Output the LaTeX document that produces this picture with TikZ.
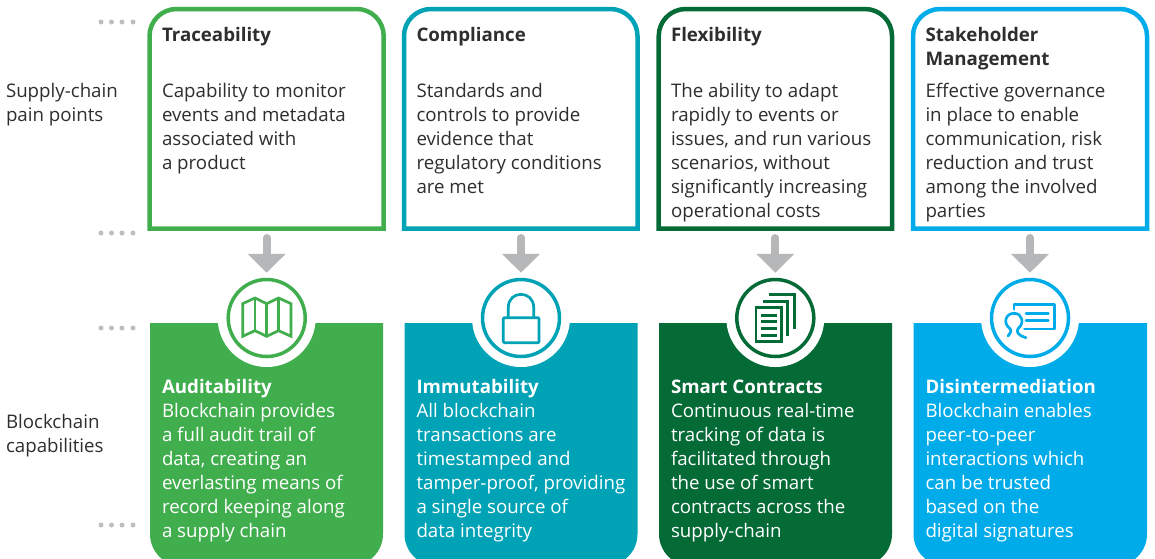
\documentclass[tikz,border=0pt]{standalone}
\usepackage{fontspec}
\setmainfont{Open Sans}
\usetikzlibrary{arrows.meta}
\definecolor{cA}{HTML}{41AE4E}
\definecolor{cB}{HTML}{00A2B6}
\definecolor{cC}{HTML}{046B37}
\definecolor{cD}{HTML}{00ABEA}
\definecolor{txt}{HTML}{2E2E2E}
\definecolor{arrowgray}{HTML}{B6B7B9}
\definecolor{dotgray}{HTML}{BDBEC0}
\newcommand{\fl}{\rule{0pt}{16.8pt}}
\tikzset{
  x=1pt,y=-1pt,
  label text/.style={anchor=north west,inner sep=0pt,outer sep=0pt,align=left,text=txt,font=\fontsize{18.7}{24}\selectfont},
  title text/.style={label text,font=\fontsize{18.7}{24}\selectfont\bfseries},
  white text/.style={label text,text=white},
  painbox/.style={line width=4.5pt,fill=white},
  capbox/.style={fill=#1},
  halo/.style={fill=white,circle,minimum size=98pt,inner sep=0pt,outer sep=0pt},
  ring/.style={draw=#1,line width=3.5pt,fill=white,circle,minimum size=77pt,inner sep=0pt},
  glyph/.style={draw=#1,line width=2.7pt,line join=miter},
  flow/.style={draw=arrowgray,line width=8pt,line cap=round,shorten >=5pt,-{Triangle[width=37pt,length=19pt]},arrowgray},
  dotmark/.style={fill=dotgray,circle,minimum size=5pt,inner sep=0pt,outer sep=0pt},
}
\begin{document}
\begin{tikzpicture}
\clip (0,0) rectangle (1155,558);
% dot rows
\foreach \yy in {22,233,328,525}{
  \foreach \xx in {101,111.5,122,133}{
    \node[dotmark] at (\xx,\yy) {};
  }
}
% side labels
\node[label text] (sideA) at (6,80.4) {\fl Supply-chain\\pain points};
\node[label text] (sideB) at (6,411.4) {\fl Blockchain\\capabilities};
% pain point boxes
\draw[painbox,draw=cA] (149.5,228.7) [rounded corners=27] -- (149.5,9) -- (383.7,9) [sharp corners] -- (383.7,228.7) -- cycle;
\draw[painbox,draw=cB] (404,228.7) [rounded corners=27] -- (404,9) -- (637.5,9) [sharp corners] -- (637.5,228.7) -- cycle;
\draw[painbox,draw=cC] (658.7,228.7) [rounded corners=27] -- (658.7,9) -- (892,9) [sharp corners] -- (892,228.7) -- cycle;
\draw[painbox,draw=cD] (913,228.7) [rounded corners=27] -- (913,9) -- (1147,9) [sharp corners] -- (1147,228.7) -- cycle;
\coordinate (outA) at (266.7,238);
\coordinate (outB) at (521,238);
\coordinate (outC) at (775.3,238);
\coordinate (outD) at (1030,238);
% capability boxes
\fill[capbox=cA] (150,323) -- (383,323) [rounded corners=32] -- (383,566) -- (150,566) [sharp corners] -- cycle;
\fill[capbox=cB] (404.5,323) -- (637.5,323) [rounded corners=32] -- (637.5,566) -- (404.5,566) [sharp corners] -- cycle;
\fill[capbox=cC] (659,323) -- (892,323) [rounded corners=32] -- (892,566) -- (659,566) [sharp corners] -- cycle;
\fill[capbox=cD] (913.5,323) -- (1147,323) [rounded corners=32] -- (1147,566) -- (913.5,566) [sharp corners] -- cycle;
% halos and rings
\node[halo] at (266.7,318) {};
\node[halo] at (521,318) {};
\node[halo] at (775.3,318) {};
\node[halo] at (1030,318) {};
\node[ring=cA] (ringA) at (266.7,318) {};
\node[ring=cB] (ringB) at (521,318) {};
\node[ring=cC] (ringC) at (775.3,318) {};
\node[ring=cD] (ringD) at (1030,318) {};
% connectors
\draw[flow] (outA) -- (outA |- ringA.north);
\draw[flow] (outB) -- (outB |- ringB.north);
\draw[flow] (outC) -- (outC |- ringC.north);
\draw[flow] (outD) -- (outD |- ringD.north);
% map icon
\begin{scope}[shift={(90,210)},x=0.3333pt,y=-0.3333pt]
\draw[glyph=cA] (458,281) -- (495,264) -- (530,281) -- (566,264) -- (603,281) -- (603,379) -- (566,362) -- (530,379) -- (495,362) -- (458,379) -- cycle;
\draw[glyph=cA] (495,264) -- (495,362) (530,281) -- (530,379) (566,264) -- (566,362);
\end{scope}
% lock icon
\begin{scope}[shift={(440,270)},x=0.3333pt,y=-0.3333pt]
\draw[glyph=cB,rounded corners=1pt] (190,143) rectangle (297,218);
\draw[glyph=cB] (205,143) -- (205,112) .. controls (205,60) and (281,60) .. (281,112) -- (281,143);
\end{scope}
% documents icon
\begin{scope}[shift={(700,270)},x=0.3333pt,y=-0.3333pt]
\draw[glyph=cC] (168,113) rectangle (245,215);
\draw[glyph=cC,line width=3pt] (184,135) -- (230,135) (184,155) -- (230,155) (184,175) -- (230,175) (184,195) -- (230,195);
\draw[glyph=cC] (188,95) -- (263,95) -- (263,198);
\draw[glyph=cC] (208,73) -- (283,73) -- (283,178);
\end{scope}
% signature icon
\begin{scope}[shift={(950,270)},x=0.3333pt,y=-0.3333pt]
\draw[glyph=cD,line cap=round,line join=round] (192,118) -- (192,103) -- (313,103) -- (313,177) -- (223,177);
\draw[glyph=cD,line cap=round] (228,130) -- (295,130) (228,152) -- (295,152);
\draw[glyph=cD,line cap=round,line join=round] (174,198) .. controls (180,190) and (186,184) .. (180,176) .. controls (158,160) and (166,130) .. (192,130) .. controls (218,130) and (224,160) .. (204,176) .. controls (198,186) and (204,196) .. (228,203);
\end{scope}
% pain point text
\node[title text] (titleA) at (162,24.2) {\fl Traceability};
\node[label text] (bodyA) at (162,80.4) {\fl Capability to monitor\\events and metadata\\associated with\\a product};
\node[title text] (titleB) at (416.5,24.2) {\fl Compliance};
\node[label text] (bodyB) at (416.5,80.4) {\fl Standards and\\controls to provide\\evidence that\\regulatory conditions\\are met};
\node[title text] (titleC) at (671,24.2) {\fl Flexibility};
\node[label text] (bodyC) at (671,80.4) {\fl The ability to adapt\\rapidly to events or\\issues, and run various\\scenarios, without\\significantly increasing\\operational costs};
\node[title text] (titleD) at (925.5,24.2) {\fl Stakeholder\\Management};
\node[label text] (bodyD) at (925.5,80.4) {\fl Effective governance\\in place to enable\\communication, risk\\reduction and trust\\among the involved\\parties};
% capability text
\node[white text] (capA) at (162,376.4) {\fl\textbf{Auditability}\\Blockchain provides\\a full audit trail of\\data, creating an\\everlasting means of\\record keeping along\\a supply chain};
\node[white text] (capB) at (416.5,376.4) {\fl\textbf{Immutability}\\All blockchain\\transactions are\\timestamped and\\tamper-proof, providing\\a single source of\\data integrity};
\node[white text] (capC) at (671,376.4) {\fl\textbf{Smart Contracts}\\Continuous real-time\\tracking of data is\\facilitated through\\the use of smart\\contracts across the\\supply-chain};
\node[white text] (capD) at (925.5,376.4) {\fl\textbf{Disintermediation}\\Blockchain enables\\peer-to-peer\\interactions which\\can be trusted\\based on the\\digital signatures};
\end{tikzpicture}
\end{document}
